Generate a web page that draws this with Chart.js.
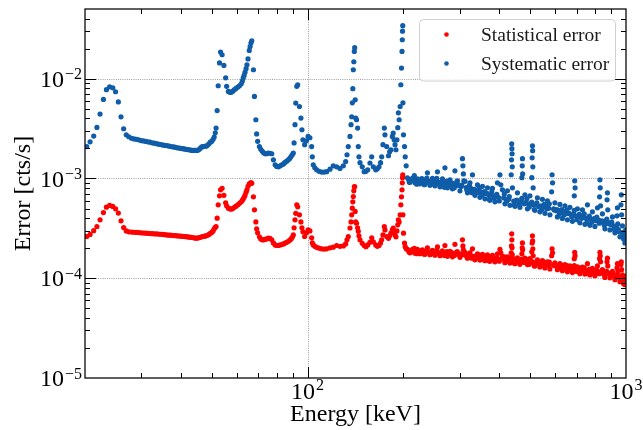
<!DOCTYPE html>
<html>
<head>
<meta charset="utf-8">
<title>Error vs energy</title>
<script src="https://cdn.jsdelivr.net/npm/chart.js@4.4.1/dist/chart.umd.min.js"></script>
<style>
  html, body { margin: 0; padding: 0; background: #fff; }
  canvas { display: block; }
</style>
</head>
<body>
<canvas id="chart" width="643" height="430"></canvas>
<script>
// bin centres (keV); the last two blocks fill in the dense high-energy band
const energyKeV = [
  20.25, 20.75, 21.3, 21.8, 22.3, 22.85, 23.35, 23.9, 24.45, 24.95, 25.45, 25.95, 26.45, 26.95, 27.45,
  28, 28.5, 29, 29.5, 30, 30.5, 31, 31.5, 32, 32.5,
  33, 33.5, 34, 34.5, 35, 35.5, 36, 36.5, 37, 37.5,
  38, 38.5, 39, 39.5, 40, 40.5, 41, 41.5, 42, 42.5,
  43, 43.5, 44, 44.5, 45, 45.5, 46, 46.5, 47, 47.5,
  48, 48.5, 49, 49.5,
  50.0, 50.5, 50.9, 51.3, 51.6, 52.0, 52.4, 52.9, 53.3, 53.9,
  54.6, 55.3, 55.7, 56.4, 57.0, 57.6, 58.2, 58.9, 59.6, 60.4,
  61.1, 61.9, 62.4, 62.8, 63.2, 63.6, 64.1, 64.5, 65.0, 65.6,
  66.0, 66.4, 66.8, 67.6, 68.1, 68.8, 69.2, 69.7, 70.6, 71.3,
  72.1, 72.8, 73.6, 74.4, 75.3, 76.2, 77.2, 78.1, 79.1, 80.0,
  81.0, 82.0, 83.0, 84.0, 84.9, 86.0, 87.0, 87.9, 88.7, 89.5,
  90.2, 90.7, 91.3, 91.8, 92.5, 93.1, 94.3, 95.3, 96.0, 96.7,
  97.9, 99.2,
  100.4, 101.7, 103.0, 103.5, 104.2, 105.4, 106.8, 108.7, 110.7, 112.7,
  114.8, 117.6, 120.4, 123.4, 126.4, 129.5, 131.7, 133.0, 134.2, 135.9,
  136.9, 137.6, 138.2, 138.7, 139.2, 139.7, 140.2, 140.6, 141.1, 141.6,
  142.5, 143.6, 144.3, 145.0, 146.1, 148.5, 150.6, 152.5, 154.5, 157.0,
  159.0, 160.9, 163.7, 165.6, 167.6, 169.5, 170.9, 172.5, 174.2, 175.0,
  177.2, 179.5, 181.0, 182.7, 184.6, 185.8, 187.0, 188.2, 189.5, 190.8,
  192.0, 192.8, 193.9, 195.3, 196.3, 197.2, 198.0, 198.4, 198.7, 199.0,
  199.3, 200.1, 201.6, 202.6, 204.0,
  205.9, 209.7, 213.5, 217.4, 221.3, 225.4, 229.5, 233.7, 237.9, 242.3,
  246.7, 251.2, 255.8, 260.5, 265.2, 270.0, 275.0, 280.0, 285.1, 290.3,
  295.6, 301.0, 306.5, 307.5, 308.5, 309.5, 312.1, 317.8, 323.6, 329.5,
  335.5, 341.6, 347.8, 354.2, 360.6, 367.2, 373.9, 380.7, 387.6, 394.7,
  401.9, 404.5, 409.2, 416.7, 424.3, 432.0, 436.0, 437.0, 437.6, 438.2,
  438.8, 439.4, 439.9, 447.9, 456.1, 464.4, 471.0, 472.2, 472.9, 473.6,
  481.5, 490.3, 499.2, 506.0, 507.3, 508.3, 509.0, 509.8, 511.0, 517.6,
  527.0, 536.6, 546.4, 556.4, 566.5, 576.9, 584.0, 586.0, 588.0, 598.1,
  609.0, 620.1, 631.4, 643.0, 654.7, 666.6, 678.8, 688.0, 690.0, 692.0,
  703.8, 716.6, 729.7, 743.0, 756.6, 770.4, 784.4, 798.7, 813.3, 826.0,
  828.1, 830.0, 832.0, 843.2, 858.6, 872.0, 874.3, 876.5, 890.2, 906.5,
  923.0, 937.0, 939.8, 942.5, 957.0, 964.0, 966.5, 969.0, 974.4, 983.0,
  992.2, 998.0,
  207.8, 211.6, 215.4, 219.3, 223.3, 227.4, 231.6, 235.8, 240.1, 244.5,
  248.9, 253.5, 258.1, 262.8, 267.6, 272.5, 277.5, 282.5, 287.7, 292.9,
  298.3, 303.7, 314.9, 320.7, 326.5, 332.5, 338.5, 344.7, 351.0, 357.4,
  363.9, 370.5, 377.3, 384.1, 391.1, 398.3, 412.9, 420.5, 428.1, 443.9,
  452.0, 460.2, 468.5, 477.2, 485.9, 494.7, 503.7, 513.0, 522.3, 531.8,
  541.5, 551.4, 561.4, 571.7, 592.5, 603.5, 614.5, 625.7, 637.2, 648.8,
  660.6, 672.7, 685.0, 697.5, 710.2, 723.1, 736.3, 749.8, 763.5, 777.4,
  791.5, 806.0, 820.7, 836.0, 851.0, 866.4, 882.2, 898.3, 914.7, 931.4,
  948.4, 978.7, 987.6, 995.1,
  208.7, 212.6, 216.4, 220.3, 224.3, 228.4, 232.6, 236.9, 241.2, 245.6,
  250.0, 254.6, 259.3, 264.0, 268.8, 273.7, 278.7, 283.8, 289.0, 294.2,
  299.6, 305.1, 316.3, 322.1, 328.0, 334.0, 340.0, 346.3, 352.6, 359.0,
  365.5, 372.2, 379.0, 385.8, 392.9, 400.1, 414.8, 422.4, 430.0, 445.9,
  454.0, 462.3, 470.6, 479.3, 488.1, 496.9, 505.9, 515.3, 524.6, 534.2,
  543.9, 553.9, 563.9, 574.3, 595.2, 606.2, 617.3, 628.5, 640.1, 651.7,
  663.6, 675.7, 688.1, 700.6, 713.4, 726.4, 739.6, 753.2, 766.9, 780.9,
  795.1, 809.6, 824.4, 839.8, 854.8, 870.3, 886.2, 902.3, 918.8, 935.6,
  952.7, 983.1, 992.0, 999.0
];

// statistical error (cts/s)
const statErr = [
  2.62e-4, 2.75e-4, 3.0e-4, 3.3e-4, 3.85e-4, 4.55e-4, 5.16e-4, 5.37e-4, 5.25e-4, 4.96e-4, 4.5e-4, 3.76e-4, 3.22e-4, 2.98e-4, 2.92e-4,
  2.90e-4, 2.89e-4, 2.88e-4, 2.87e-4, 2.85e-4, 2.84e-4, 2.83e-4, 2.82e-4, 2.81e-4, 2.80e-4,
  2.79e-4, 2.78e-4, 2.77e-4, 2.76e-4, 2.75e-4, 2.74e-4, 2.72e-4, 2.71e-4, 2.70e-4, 2.69e-4,
  2.68e-4, 2.67e-4, 2.66e-4, 2.65e-4, 2.64e-4, 2.63e-4, 2.62e-4, 2.61e-4, 2.60e-4, 2.58e-4,
  2.57e-4, 2.56e-4, 2.54e-4, 2.52e-4, 2.53e-4, 2.54e-4, 2.57e-4, 2.60e-4, 2.62e-4, 2.64e-4,
  2.66e-4, 2.69e-4, 2.75e-4, 2.82e-4,
  2.88e-4, 2.98e-4, 3.13e-4, 3.24e-4, 3.30e-4, 4.00e-4, 5.44e-4, 6.70e-4, 7.70e-4, 7.97e-4,
  6.78e-4, 5.70e-4, 5.32e-4, 5.04e-4, 4.96e-4, 4.93e-4, 5.00e-4, 5.14e-4, 5.28e-4, 5.44e-4,
  5.64e-4, 5.83e-4, 6.04e-4, 6.25e-4, 6.47e-4, 6.78e-4, 7.27e-4, 7.70e-4, 8.35e-4, 8.84e-4,
  8.90e-4, 9.10e-4, 8.94e-4, 6.55e-4, 4.85e-4, 3.67e-4, 3.13e-4, 2.85e-4, 2.60e-4, 2.48e-4,
  2.43e-4, 2.43e-4, 2.46e-4, 2.48e-4, 2.52e-4, 2.51e-4, 2.43e-4, 2.26e-4, 2.16e-4, 2.13e-4,
  2.13e-4, 2.16e-4, 2.18e-4, 2.21e-4, 2.25e-4, 2.29e-4, 2.35e-4, 2.40e-4, 2.48e-4, 2.57e-4,
  2.72e-4, 3.20e-4, 3.85e-4, 4.47e-4, 5.44e-4, 5.20e-4, 4.32e-4, 3.67e-4, 3.20e-4, 2.92e-4,
  2.62e-4, 2.85e-4,
  3.05e-4, 2.98e-4, 2.54e-4, 2.26e-4, 2.16e-4, 2.09e-4, 2.04e-4, 2.00e-4, 1.97e-4, 1.96e-4,
  1.97e-4, 2.02e-4, 2.05e-4, 2.13e-4, 2.09e-4, 2.11e-4, 2.21e-4, 2.43e-4, 2.62e-4, 3.19e-4,
  3.67e-4, 4.32e-4, 5.04e-4, 5.83e-4, 6.60e-4, 7.52e-4, 8.25e-4, 8.30e-4, 4.68e-4, 3.67e-4,
  3.56e-4, 3.20e-4, 2.95e-4, 2.66e-4, 2.43e-4, 2.24e-4, 2.13e-4, 2.07e-4, 2.16e-4, 2.29e-4,
  2.54e-4, 2.32e-4, 2.16e-4, 2.09e-4, 2.13e-4, 2.26e-4, 2.43e-4, 2.72e-4, 3.30e-4, 3.05e-4,
  2.62e-4, 2.51e-4, 2.66e-4, 2.83e-4, 3.05e-4, 3.19e-4, 2.92e-4, 2.72e-4, 2.60e-4, 2.98e-4,
  3.43e-4, 3.85e-4, 3.67e-4, 4.32e-4, 5.44e-4, 6.55e-4, 7.70e-4, 9.05e-4, 1.02e-3, 1.09e-3,
  4.32e-4, 2.83e-4, 2.25e-4, 2.07e-4, 1.97e-4,
  1.95e-4, 1.80e-4, 1.95e-4, 1.78e-4, 1.95e-4, 1.76e-4, 1.93e-4, 1.74e-4, 2.02e-4, 1.72e-4,
  1.90e-4, 1.70e-4, 2.06e-4, 1.68e-4, 1.88e-4, 2.13e-4, 1.66e-4, 1.86e-4, 1.64e-4, 2.19e-4,
  1.84e-4, 1.62e-4, 2.43e-4, 2.11e-4, 1.93e-4, 1.72e-4, 1.82e-4, 1.59e-4, 1.80e-4, 1.97e-4,
  1.53e-4, 1.76e-4, 1.52e-4, 1.74e-4, 1.50e-4, 1.72e-4, 1.48e-4, 1.70e-4, 1.46e-4, 1.76e-4,
  1.95e-4, 1.80e-4, 1.66e-4, 1.43e-4, 1.64e-4, 1.42e-4, 1.80e-4, 2.11e-4, 2.79e-4, 2.43e-4,
  2.02e-4, 1.72e-4, 1.60e-4, 1.40e-4, 1.60e-4, 1.38e-4, 1.76e-4, 2.02e-4, 2.26e-4, 1.93e-4,
  1.59e-4, 1.37e-4, 1.57e-4, 1.84e-4, 2.26e-4, 2.66e-4, 2.37e-4, 1.97e-4, 1.68e-4, 1.33e-4,
  1.53e-4, 1.30e-4, 1.50e-4, 1.27e-4, 1.46e-4, 1.24e-4, 1.68e-4, 1.97e-4, 1.80e-4, 1.43e-4,
  1.22e-4, 1.40e-4, 1.19e-4, 1.37e-4, 1.16e-4, 1.33e-4, 1.14e-4, 1.57e-4, 1.82e-4, 1.68e-4,
  1.30e-4, 1.11e-4, 1.29e-4, 1.10e-4, 1.40e-4, 1.08e-4, 1.26e-4, 1.06e-4, 1.33e-4, 1.57e-4,
  1.82e-4, 1.68e-4, 1.46e-4, 1.22e-4, 1.02e-4, 1.46e-4, 1.59e-4, 1.33e-4, 1.01e-4, 1.17e-4,
  9.67e-5, 1.27e-4, 1.40e-4, 1.16e-4, 9.23e-5, 1.37e-4, 1.46e-4, 1.22e-4, 1.08e-4, 8.82e-5,
  8.61e-5, 1.04e-4,
  1.88e-4, 1.86e-4, 1.88e-4, 1.85e-4, 1.86e-4, 1.83e-4, 1.84e-4, 1.81e-4, 1.83e-4, 1.80e-4,
  1.82e-4, 1.79e-4, 1.81e-4, 1.78e-4, 1.80e-4, 1.77e-4, 1.78e-4, 1.76e-4, 1.77e-4, 1.74e-4,
  1.76e-4, 1.72e-4, 1.71e-4, 1.67e-4, 1.68e-4, 1.64e-4, 1.65e-4, 1.61e-4, 1.62e-4, 1.59e-4,
  1.61e-4, 1.58e-4, 1.59e-4, 1.56e-4, 1.57e-4, 1.55e-4, 1.55e-4, 1.52e-4, 1.53e-4, 1.50e-4,
  1.51e-4, 1.48e-4, 1.49e-4, 1.46e-4, 1.47e-4, 1.44e-4, 1.45e-4, 1.42e-4, 1.43e-4, 1.41e-4,
  1.42e-4, 1.39e-4, 1.40e-4, 1.36e-4, 1.36e-4, 1.33e-4, 1.34e-4, 1.30e-4, 1.31e-4, 1.28e-4,
  1.29e-4, 1.26e-4, 1.27e-4, 1.23e-4, 1.24e-4, 1.21e-4, 1.22e-4, 1.19e-4, 1.20e-4, 1.17e-4,
  1.18e-4, 1.15e-4, 1.16e-4, 1.13e-4, 1.14e-4, 1.11e-4, 1.12e-4, 1.09e-4, 1.09e-4, 1.05e-4,
  1.04e-4, 9.85e-5, 9.90e-5, 9.60e-5,
  1.82e-4, 1.89e-4, 1.99e-4, 1.76e-4, 1.86e-4, 1.89e-4, 1.74e-4, 1.90e-4, 1.80e-4, 1.84e-4,
  1.75e-4, 1.90e-4, 1.76e-4, 1.79e-4, 1.69e-4, 1.85e-4, 1.74e-4, 1.81e-4, 1.69e-4, 1.84e-4,
  1.75e-4, 1.76e-4, 1.65e-4, 1.75e-4, 1.59e-4, 1.66e-4, 1.63e-4, 1.71e-4, 1.55e-4, 1.63e-4,
  1.61e-4, 1.49e-4, 1.66e-4, 1.52e-4, 1.60e-4, 1.48e-4, 1.64e-4, 1.49e-4, 1.58e-4, 1.42e-4,
  1.52e-4, 1.43e-4, 1.56e-4, 1.44e-4, 1.55e-4, 1.38e-4, 1.48e-4, 1.33e-4, 1.47e-4, 1.40e-4,
  1.35e-4, 1.45e-4, 1.36e-4, 1.45e-4, 1.34e-4, 1.35e-4, 1.27e-4, 1.35e-4, 1.26e-4, 1.34e-4,
  1.28e-4, 1.23e-4, 1.34e-4, 1.17e-4, 1.27e-4, 1.19e-4, 1.27e-4, 1.12e-4, 1.23e-4, 1.13e-4,
  1.19e-4, 1.21e-4, 1.11e-4, 1.15e-4, 1.08e-4, 1.17e-4, 1.10e-4, 1.13e-4, 1.04e-4, 1.07e-4,
  1.01e-4, 1.03e-4, 9.37e-5, 9.87e-5
];

// systematic error (cts/s)
const sysErr = [
  2.09e-3, 2.33e-3, 2.66e-3, 3.25e-3, 4.42e-3, 6.2e-3, 7.76e-3, 8.3e-3, 8.1e-3, 7.4e-3, 5.85e-3, 4.15e-3, 3.15e-3, 2.74e-3, 2.62e-3,
  2.53e-3, 2.49e-3, 2.47e-3, 2.44e-3, 2.40e-3, 2.38e-3, 2.36e-3, 2.33e-3, 2.31e-3, 2.28e-3,
  2.26e-3, 2.24e-3, 2.21e-3, 2.19e-3, 2.17e-3, 2.15e-3, 2.14e-3, 2.12e-3, 2.10e-3, 2.08e-3,
  2.07e-3, 2.05e-3, 2.03e-3, 2.02e-3, 2.00e-3, 1.99e-3, 1.98e-3, 1.96e-3, 1.95e-3, 1.94e-3,
  1.92e-3, 1.91e-3, 1.91e-3, 1.91e-3, 1.91e-3, 1.94e-3, 2.00e-3, 2.07e-3, 2.09e-3, 2.10e-3,
  2.11e-3, 2.15e-3, 2.23e-3, 2.31e-3,
  2.36e-3, 2.47e-3, 2.60e-3, 2.87e-3, 3.20e-3, 4.79e-3, 8.50e-3, 1.44e-2, 1.85e-2, 1.74e-2,
  1.36e-2, 1.02e-2, 8.40e-3, 7.46e-3, 7.30e-3, 7.30e-3, 7.50e-3, 7.76e-3, 8.00e-3, 8.25e-3,
  8.50e-3, 8.90e-3, 9.50e-3, 1.02e-2, 1.08e-2, 1.16e-2, 1.26e-2, 1.38e-2, 1.58e-2, 1.92e-2,
  2.10e-2, 2.28e-2, 2.40e-2, 1.23e-2, 6.65e-3, 3.88e-3, 2.80e-3, 2.36e-3, 2.09e-3, 1.96e-3,
  1.87e-3, 1.81e-3, 1.77e-3, 1.77e-3, 1.80e-3, 1.79e-3, 1.77e-3, 1.54e-3, 1.37e-3, 1.32e-3,
  1.31e-3, 1.34e-3, 1.37e-3, 1.40e-3, 1.45e-3, 1.49e-3, 1.54e-3, 1.59e-3, 1.66e-3, 1.73e-3,
  1.80e-3, 2.27e-3, 3.46e-3, 5.70e-3, 8.40e-3, 8.70e-3, 5.27e-3, 4.03e-3, 3.08e-3, 2.44e-3,
  2.18e-3, 2.39e-3,
  2.64e-3, 2.56e-3, 2.09e-3, 1.65e-3, 1.37e-3, 1.28e-3, 1.22e-3, 1.18e-3, 1.16e-3, 1.16e-3,
  1.17e-3, 1.24e-3, 1.34e-3, 1.31e-3, 1.26e-3, 1.34e-3, 1.48e-3, 1.73e-3, 2.09e-3, 2.64e-3,
  3.46e-3, 4.16e-3, 5.74e-3, 7.94e-3, 1.23e-2, 1.48e-2, 1.88e-2, 2.05e-2, 6.15e-3, 4.03e-3,
  3.88e-3, 3.20e-3, 2.09e-3, 1.65e-3, 1.44e-3, 1.31e-3, 1.17e-3, 1.18e-3, 1.22e-3, 1.43e-3,
  1.65e-3, 1.31e-3, 1.22e-3, 1.25e-3, 1.31e-3, 1.44e-3, 1.65e-3, 2.18e-3, 3.20e-3, 2.74e-3,
  2.09e-3, 1.69e-3, 1.85e-3, 1.94e-3, 2.64e-3, 2.85e-3, 2.44e-3, 2.18e-3, 1.94e-3, 2.44e-3,
  3.23e-3, 4.55e-3, 3.88e-3, 5.27e-3, 8.70e-3, 1.28e-2, 1.88e-2, 2.46e-2, 3.00e-2, 3.40e-2,
  5.74e-3, 2.74e-3, 2.09e-3, 1.65e-3, 1.34e-3,
  1.016e-3, 9.15e-4, 1.004e-3, 9.05e-4, 9.93e-4, 8.84e-4, 9.80e-4, 8.74e-4, 1.14e-3, 8.54e-4,
  1.004e-3, 8.45e-4, 1.167e-3, 8.25e-4, 9.93e-4, 1.28e-3, 8.06e-4, 9.70e-4, 7.88e-4, 1.194e-3,
  9.48e-4, 7.52e-4, 1.58e-3, 1.34e-3, 1.11e-3, 9.48e-4, 9.37e-4, 7.18e-4, 9.05e-4, 1.089e-3,
  6.78e-4, 8.64e-4, 6.47e-4, 8.35e-4, 6.25e-4, 8.06e-4, 6.04e-4, 7.97e-4, 5.83e-4, 9.05e-4,
  1.089e-3, 8.64e-4, 7.70e-4, 5.57e-4, 7.52e-4, 5.38e-4, 1.09e-3, 1.54e-3, 2.23e-3, 1.99e-3,
  1.77e-3, 1.31e-3, 8.06e-4, 5.26e-4, 7.18e-4, 5.14e-4, 1.02e-3, 1.34e-3, 1.58e-3, 1.11e-3,
  6.86e-4, 4.96e-4, 6.70e-4, 1.02e-3, 1.61e-3, 2.13e-3, 1.90e-3, 1.31e-3, 8.06e-4, 4.79e-4,
  6.40e-4, 4.63e-4, 6.18e-4, 4.47e-4, 5.97e-4, 4.32e-4, 7.35e-4, 1.09e-3, 9.05e-4, 5.70e-4,
  4.12e-4, 5.50e-4, 3.98e-4, 5.32e-4, 3.85e-4, 5.14e-4, 3.72e-4, 6.70e-4, 9.48e-4, 8.06e-4,
  4.96e-4, 3.59e-4, 4.85e-4, 3.47e-4, 5.44e-4, 3.39e-4, 4.63e-4, 3.31e-4, 5.08e-4, 6.55e-4,
  9.70e-4, 8.06e-4, 5.32e-4, 4.42e-4, 3.13e-4, 6.11e-4, 7.18e-4, 4.85e-4, 3.05e-4, 4.12e-4,
  2.85e-4, 4.22e-4, 5.08e-4, 3.51e-4, 2.60e-4, 5.44e-4, 6.86e-4, 4.32e-4, 3.35e-4, 2.48e-4,
  2.26e-4, 3.05e-4,
  9.70e-4, 9.55e-4, 9.75e-4, 9.50e-4, 9.60e-4, 9.40e-4, 9.50e-4, 9.30e-4, 9.35e-4, 9.20e-4,
  9.30e-4, 9.05e-4, 9.20e-4, 8.95e-4, 9.05e-4, 8.80e-4, 8.90e-4, 8.65e-4, 8.75e-4, 8.50e-4,
  8.60e-4, 8.30e-4, 8.10e-4, 7.85e-4, 7.90e-4, 7.60e-4, 7.55e-4, 7.25e-4, 7.30e-4, 7.05e-4,
  7.10e-4, 6.85e-4, 6.90e-4, 6.65e-4, 6.70e-4, 6.45e-4, 6.40e-4, 6.15e-4, 6.20e-4, 5.95e-4,
  6.00e-4, 5.80e-4, 5.85e-4, 5.70e-4, 5.72e-4, 5.55e-4, 5.60e-4, 5.42e-4, 5.45e-4, 5.28e-4,
  5.32e-4, 5.15e-4, 5.20e-4, 5.02e-4, 4.95e-4, 4.76e-4, 4.80e-4, 4.60e-4, 4.65e-4, 4.46e-4,
  4.50e-4, 4.32e-4, 4.36e-4, 4.19e-4, 4.22e-4, 4.08e-4, 4.12e-4, 3.98e-4, 4.00e-4, 3.88e-4,
  3.92e-4, 3.78e-4, 3.82e-4, 3.68e-4, 3.72e-4, 3.58e-4, 3.62e-4, 3.45e-4, 3.36e-4, 3.12e-4,
  3.05e-4, 2.70e-4, 2.72e-4, 2.58e-4,
  9.16e-4, 9.77e-4, 1.069e-3, 8.76e-4, 9.60e-4, 9.95e-4, 8.66e-4, 1.008e-3, 9.13e-4, 9.52e-4,
  8.68e-4, 1.004e-3, 8.79e-4, 9.06e-4, 8.15e-4, 9.43e-4, 8.60e-4, 9.06e-4, 8.07e-4, 9.32e-4,
  8.50e-4, 8.59e-4, 7.65e-4, 8.51e-4, 7.20e-4, 7.77e-4, 7.38e-4, 8.04e-4, 6.81e-4, 7.38e-4,
  7.10e-4, 6.17e-4, 7.40e-4, 6.35e-4, 6.93e-4, 5.95e-4, 7.01e-4, 5.94e-4, 6.57e-4, 5.43e-4,
  6.07e-4, 5.48e-4, 6.34e-4, 5.57e-4, 6.27e-4, 5.18e-4, 5.80e-4, 4.88e-4, 5.71e-4, 5.22e-4,
  4.91e-4, 5.52e-4, 4.97e-4, 5.57e-4, 4.84e-4, 4.87e-4, 4.38e-4, 4.87e-4, 4.34e-4, 4.83e-4,
  4.45e-4, 4.13e-4, 4.78e-4, 3.86e-4, 4.37e-4, 3.99e-4, 4.42e-4, 3.59e-4, 4.19e-4, 3.66e-4,
  3.97e-4, 4.10e-4, 3.56e-4, 3.76e-4, 3.39e-4, 3.92e-4, 3.50e-4, 3.65e-4, 3.10e-4, 3.23e-4,
  2.91e-4, 2.89e-4, 2.48e-4, 2.70e-4
];

// labelled powers of ten
const xDecades = [2, 3];
const yDecades = [-5, -4, -3, -2];
const xMin = 20, xMax = 1000;
const yMin = 1e-5, yMax = 5e-2;

const SERIF = '"Liberation Serif", "DejaVu Serif", serif';
const RED = '#ff0000';
const BLUE = '#0f5ca8';

const series = [
  { label: 'Statistical error', values: statErr, color: RED },
  { label: 'Systematic error', values: sysErr, color: BLUE },
];

function toPoints(values) {
  return energyKeV.map((e, i) => ({ x: e, y: values[i] }));
}

function minorValues(decades, lo, hi) {
  const out = [];
  decades.forEach(p => {
    for (let m = 2; m <= 9; m++) {
      const v = m * Math.pow(10, p);
      if (v > lo * 1.001 && v < hi * 0.999) out.push(v);
    }
  });
  return out;
}

// "10" with a raised exponent; anchor is right edge (y axis) or centre (x axis)
function drawPower(ctx, exp, x, baseY, expY, align) {
  const e = String(exp).replace('-', '\u2212');
  ctx.font = `24px ${SERIF}`;
  const wBase = ctx.measureText('10').width;
  ctx.font = `16px ${SERIF}`;
  const wExp = ctx.measureText(e).width;
  const total = wBase + 1 + wExp;
  const left = align === 'right' ? x - total : x - total / 2;
  ctx.textAlign = 'left';
  ctx.textBaseline = 'alphabetic';
  ctx.font = `24px ${SERIF}`;
  ctx.fillText('10', left, baseY);
  ctx.font = `16px ${SERIF}`;
  ctx.fillText(e, left + wBase + 1, expY);
}

const axesDecor = {
  id: 'axesDecor',
  beforeDatasetsDraw(chart) {
    const { ctx, chartArea: a, scales: { x, y } } = chart;
    ctx.save();
    ctx.strokeStyle = '#858585';
    ctx.lineWidth = 0.8;
    ctx.setLineDash([1, 1.2]);
    ctx.beginPath();
    xDecades.forEach(p => {
      const px = Math.round(x.getPixelForValue(Math.pow(10, p))) + 0.5;
      if (px > a.left + 2 && px < a.right - 2) { ctx.moveTo(px, a.top); ctx.lineTo(px, a.bottom); }
    });
    yDecades.forEach(p => {
      const py = Math.round(y.getPixelForValue(Math.pow(10, p))) + 0.5;
      if (py > a.top + 2 && py < a.bottom - 2) { ctx.moveTo(a.left, py); ctx.lineTo(a.right, py); }
    });
    ctx.stroke();
    ctx.restore();
  },
  afterDatasetsDraw(chart) {
    const { ctx, chartArea: a, scales: { x, y } } = chart;
    ctx.save();
    ctx.strokeStyle = '#000';
    ctx.fillStyle = '#000';

    // inward ticks on all four sides
    ctx.lineWidth = 1;
    ctx.beginPath();
    const xTicks = [
      ...xDecades.map(p => [Math.pow(10, p), 11]),
      ...minorValues([1, 2], xMin, xMax).map(v => [v, 5]),
    ];
    xTicks.forEach(([v, len]) => {
      const px = Math.round(x.getPixelForValue(v)) + 0.5;
      if (px <= a.left + 1 || px >= a.right - 1) return;
      ctx.moveTo(px, a.bottom); ctx.lineTo(px, a.bottom - len);
      ctx.moveTo(px, a.top); ctx.lineTo(px, a.top + len);
    });
    const yTicks = [
      ...yDecades.map(p => [Math.pow(10, p), 11]),
      ...minorValues(yDecades, yMin, yMax).map(v => [v, 5]),
    ];
    yTicks.forEach(([v, len]) => {
      const py = Math.round(y.getPixelForValue(v)) + 0.5;
      if (py <= a.top + 1 || py >= a.bottom - 1) return;
      ctx.moveTo(a.left, py); ctx.lineTo(a.left + len, py);
      ctx.moveTo(a.right, py); ctx.lineTo(a.right - len, py);
    });
    ctx.stroke();

    // frame
    ctx.lineWidth = 1.25;
    ctx.strokeRect(a.left, a.top, a.right - a.left, a.bottom - a.top);

    // tick labels
    xDecades.forEach(p => {
      const px = x.getPixelForValue(Math.pow(10, p));
      drawPower(ctx, p, px, a.bottom + 20.5, a.bottom + 12, 'center');
    });
    yDecades.forEach(p => {
      const py = y.getPixelForValue(Math.pow(10, p));
      drawPower(ctx, p, a.left - 3, py + 8.2, py + 0.5, 'right');
    });

    // axis titles
    ctx.font = `24px ${SERIF}`;
    ctx.textAlign = 'center';
    ctx.textBaseline = 'alphabetic';
    ctx.fillText('Energy [keV]', (a.left + a.right) / 2, 421);
    ctx.translate(30, (a.top + a.bottom) / 2);
    ctx.rotate(-Math.PI / 2);
    ctx.fillText('Error [cts/s]', 0, 0);
    ctx.restore();
  },
  afterDraw(chart) {
    const { ctx } = chart;
    ctx.save();
    ctx.beginPath();
    ctx.roundRect(419.5, 19.5, 196, 61.5, 4);
    ctx.fillStyle = 'rgba(255,255,255,0.8)';
    ctx.fill();
    ctx.strokeStyle = '#d0d0d0';
    ctx.lineWidth = 1;
    ctx.stroke();
    ctx.font = `19.5px ${SERIF}`;
    ctx.textAlign = 'left';
    ctx.textBaseline = 'alphabetic';
    series.forEach((s, i) => {
      const cy = 34.5 + i * 29;
      ctx.fillStyle = s.color;
      ctx.beginPath();
      ctx.arc(446.5, cy, 2.3, 0, Math.PI * 2);
      ctx.fill();
      ctx.fillStyle = '#1a1a1a';
      ctx.fillText(s.label, 481, cy + 6.8);
    });
    ctx.restore();
  }
};

new Chart(document.getElementById('chart'), {
  type: 'scatter',
  data: {
    datasets: series.map(s => ({
      label: s.label,
      data: toPoints(s.values),
      pointBackgroundColor: s.color,
      pointBorderColor: s.color,
      pointBorderWidth: 0,
      pointRadius: 2.6,
      pointHoverRadius: 2.6,
    })),
  },
  options: {
    responsive: false,
    animation: false,
    devicePixelRatio: 1,
    events: [],
    layout: { padding: { left: 85, right: 17, top: 9, bottom: 52 } },
    plugins: {
      legend: { display: false },
      tooltip: { enabled: false },
    },
    scales: {
      x: { type: 'logarithmic', min: xMin, max: xMax, display: false },
      y: { type: 'logarithmic', min: yMin, max: yMax, display: false },
    },
  },
  plugins: [axesDecor],
});
</script>
</body>
</html>
